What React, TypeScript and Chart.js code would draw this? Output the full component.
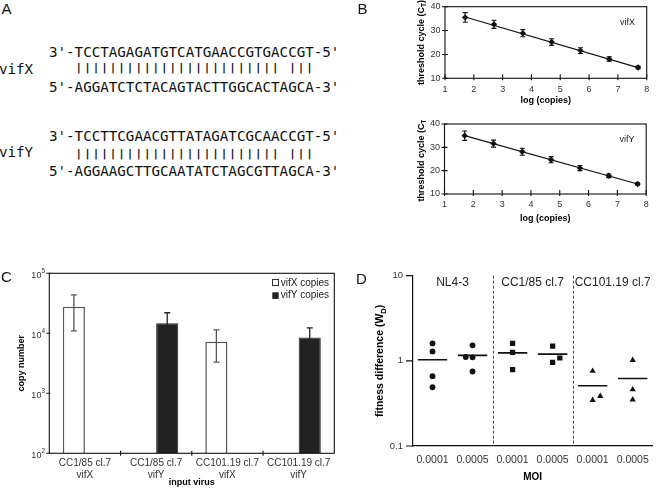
import React, { useEffect, useRef } from "react";
import { Chart, registerables } from "chart.js";

Chart.register(...registerables);

const SANS = "'Liberation Sans', Arial, Helvetica, sans-serif";
const MONO = "'DejaVu Sans Mono', monospace";
Chart.defaults.font.family = SANS;
Chart.defaults.color = "#333";

// ---------- Panel A : primer sequences ----------
const vifXStrand3 = "3'-TCCTAGAGATGTCATGAACCGTGACCGT-5'";
const vifXPairs = "   |||||||||||||||||||||||| |||";
const vifXStrand5 = "5'-AGGATCTCTACAGTACTTGGCACTAGCA-3'";
const vifYStrand3 = "3'-TCCTTCGAACGTTATAGATCGCAACCGT-5'";
const vifYPairs = "   |||||||||||||||||||||||| |||";
const vifYStrand5 = "5'-AGGAAGCTTGCAATATCTAGCGTTAGCA-3'";
const primerNames = ["vifX", "vifY"];
const panelLetters = ["A", "B", "C", "D"];

// ---------- Panel B : standard curves ----------
const logCopies = [1.7, 2.7, 3.7, 4.7, 5.7, 6.7, 7.7];
const ctVifX = [35.5, 32.6, 28.9, 25.2, 21.6, 18.1, 14.5];
const ctVifXErr = [2.0, 1.7, 1.5, 1.4, 1.2, 0.9, 0.6];
const ctVifY = [35.0, 31.6, 28.1, 24.7, 21.1, 17.8, 14.3];
const ctVifYErr = [2.0, 1.5, 1.5, 1.3, 1.1, 0.8, 0.5];
const fitX = [1.7, 7.7];
const fitVifX = [35.7, 14.5];
const fitVifY = [35.0, 14.3];
const ctTitle = ["threshold cycle (C", "T", ")"];
const logTitle = "log (copies)";

// ---------- Panel C : input copy numbers ----------
const inputVirus = [
  ["CC1/85 cl.7", "vifX"],
  ["CC1/85 cl.7", "vifY"],
  ["CC101.19 cl.7", "vifX"],
  ["CC101.19 cl.7", "vifY"],
];
const vifXCopies = [27700, null, 7200, null];
const vifXHigh = [43600, null, 11400, null];
const vifXLow = [11000, null, 3300, null];
const vifYCopies = [null, 14700, null, 8500];
const vifYHigh = [null, 22000, null, 12300];
const vifYLow = [null, 7200, null, 4350];
const copyTicks = [100, 1000, 10000, 100000];
const copyExp = ["2", "3", "4", "5"];
const copyLegend = ["vifX copies", "vifY copies"];

// ---------- Panel D : fitness differences ----------
const moiLabels = ["0.0001", "0.0005", "0.0001", "0.0005", "0.0001", "0.0005"];
const virusGroups = ["NL4-3", "CC1/85 cl.7", "CC101.19 cl.7"];
const groupCenters = [1.5, 3.5, 5.5];
const groupDividers = [2.5, 4.5];
const nl43X = [1, 1, 1, 1, 1.83, 2, 2, 2];
const nl43W = [1.6, 1.29, 0.66, 0.49, 1.11, 1.52, 1.1, 0.75];
const cc185X = [3, 3, 3, 4, 4.18, 4];
const cc185W = [1.6, 1.26, 0.79, 1.49, 1.08, 0.96];
const cc10119X = [5, 5, 5.19, 6, 6, 6];
const cc10119W = [0.76, 0.345, 0.385, 1.02, 0.46, 0.35];
const meanX = [1, 2, 3, 4, 5, 6];
const meanW = [1.03, 1.16, 1.24, 1.2, 0.51, 0.62];
const fitnessTicks = [0.1, 1, 10];

// ---------- helpers ----------
function drawText(ctx: any, s: string, x: number, y: number, size: number, o: any = {}) {
  ctx.save();
  ctx.font = `${o.bold ? "bold " : ""}${size}px ${SANS}`;
  ctx.fillStyle = o.color || "#000";
  ctx.textAlign = o.align || "center";
  ctx.textBaseline = o.baseline || "middle";
  ctx.fillText(s, x, y);
  ctx.restore();
}

function drawVTitle(ctx: any, cx: number, cy: number, parts: string[], size: number) {
  const [main, sub, tail] = parts;
  ctx.save();
  ctx.translate(cx, cy);
  ctx.rotate(-Math.PI / 2);
  const f = `bold ${size}px ${SANS}`;
  const fs = `bold ${size * 0.72}px ${SANS}`;
  ctx.font = f;
  const w1 = ctx.measureText(main).width;
  const w3 = ctx.measureText(tail).width;
  ctx.font = fs;
  const w2 = ctx.measureText(sub).width;
  let x = -(w1 + w2 + w3) / 2;
  const base = size * 0.36;
  ctx.fillStyle = "#000";
  ctx.textAlign = "left";
  ctx.textBaseline = "alphabetic";
  ctx.font = f;
  ctx.fillText(main, x, base);
  x += w1;
  ctx.font = fs;
  ctx.fillText(sub, x, base + size * 0.25);
  x += w2;
  ctx.font = f;
  ctx.fillText(tail, x, base);
  ctx.restore();
}

const fixY = (w: number) => (s: any) => {
  s.width = w;
  s.paddingTop = 0;
  s.paddingBottom = 0;
};
const fixX = (h: number) => (s: any) => {
  s.height = h;
  s.paddingLeft = 0;
  s.paddingRight = 0;
};

function ChartBox({ left, top, width, height, config }: any) {
  const ref = useRef<HTMLCanvasElement>(null);
  useEffect(() => {
    const chart = new Chart(ref.current as HTMLCanvasElement, config());
    return () => chart.destroy();
  }, []);
  return (
    <canvas
      ref={ref}
      width={width}
      height={height}
      style={{ position: "absolute", left, top, width, height }}
    />
  );
}

// ---------- Panel B config ----------
function makeStdCurve(ys: number[], errs: number[], fit: number[], tag: string, o: any) {
  const plugin = {
    id: "stdcurve",
    beforeDatasetsDraw(chart: any) {
      const { ctx, scales } = chart;
      const { x, y } = scales;
      ctx.save();
      ctx.strokeStyle = "#111";
      ctx.lineWidth = 1.1;
      logCopies.forEach((xv, i) => {
        const px = x.getPixelForValue(xv);
        const t = y.getPixelForValue(ys[i] + errs[i]);
        const b = y.getPixelForValue(ys[i] - errs[i]);
        ctx.beginPath();
        ctx.moveTo(px, t);
        ctx.lineTo(px, b);
        ctx.moveTo(px - 2.5, t);
        ctx.lineTo(px + 2.5, t);
        ctx.moveTo(px - 2.5, b);
        ctx.lineTo(px + 2.5, b);
        ctx.stroke();
      });
      ctx.restore();
    },
    afterDraw(chart: any) {
      const { ctx, chartArea: a, scales } = chart;
      const { x, y } = scales;
      ctx.save();
      ctx.strokeStyle = "#111";
      ctx.lineWidth = 1.1;
      ctx.strokeRect(a.left, a.top, a.right - a.left, a.bottom - a.top);
      ctx.beginPath();
      x.ticks.forEach((t: any) => {
        const px = x.getPixelForValue(t.value);
        ctx.moveTo(px, a.bottom - 4);
        ctx.lineTo(px, a.bottom + 2);
      });
      y.ticks.forEach((t: any) => {
        const py = y.getPixelForValue(t.value);
        ctx.moveTo(a.left - 3, py);
        ctx.lineTo(a.left + 3, py);
      });
      ctx.stroke();
      ctx.restore();
      drawVTitle(ctx, a.left - 24, (a.top + a.bottom) / 2, ctTitle, 9);
      drawText(ctx, logTitle, (a.left + a.right) / 2, o.titleY, 9, { bold: true });
      drawText(ctx, tag, a.left + 175, a.top + 15.7, 9, { align: "left", color: "#222" });
    },
  };
  return {
    type: "scatter",
    data: {
      datasets: [
        {
          data: fitX.map((x, i) => ({ x, y: fit[i] })),
          showLine: true,
          borderColor: "#111",
          borderWidth: 1.2,
          pointRadius: 0,
        },
        {
          data: logCopies.map((x, i) => ({ x, y: ys[i] })),
          showLine: false,
          pointStyle: "rectRot",
          pointRadius: 3.2,
          backgroundColor: "#111",
          borderColor: "#111",
          borderWidth: 0,
        },
      ],
    },
    options: {
      animation: false,
      responsive: false,
      events: [],
      layout: { padding: { left: 0, right: o.padRight, top: o.padTop, bottom: 0 } },
      plugins: { legend: { display: false }, tooltip: { enabled: false } },
      scales: {
        x: {
          type: "linear",
          min: 1,
          max: 8,
          ticks: { stepSize: 1, padding: 5.6, color: "#333", font: { size: 9 } },
          grid: { display: false, drawTicks: false },
          border: { display: false },
          afterFit: fixX(o.xHeight),
        },
        y: {
          type: "linear",
          min: 10,
          max: 40,
          ticks: { stepSize: 10, padding: 4.5, color: "#333", font: { size: 9 } },
          grid: { display: false, drawTicks: false },
          border: { display: false },
          afterFit: fixY(o.yWidth),
        },
      },
    },
    plugins: [plugin],
  };
}

// ---------- Panel C config ----------
function makeCopies() {
  const plugin = {
    id: "copies",
    afterDatasetsDraw(chart: any) {
      const { ctx, chartArea: a, scales } = chart;
      const { x, y } = scales;
      const errs = [
        { hi: vifXHigh, lo: vifXLow, ds: 0, color: "#555" },
        { hi: vifYHigh, lo: vifYLow, ds: 1, color: "#222" },
      ];
      errs.forEach((e) => {
        const meta = chart.getDatasetMeta(e.ds);
        e.hi.forEach((h: any, i: number) => {
          if (h == null) return;
          const px = meta.data[i].x;
          const t = y.getPixelForValue(h);
          const b = y.getPixelForValue(e.lo[i]);
          ctx.save();
          ctx.strokeStyle = e.color;
          ctx.lineWidth = 1.3;
          ctx.beginPath();
          ctx.moveTo(px, t);
          ctx.lineTo(px, b);
          ctx.moveTo(px - 3, t);
          ctx.lineTo(px + 3, t);
          ctx.moveTo(px - 3, b);
          ctx.lineTo(px + 3, b);
          ctx.stroke();
          ctx.restore();
        });
      });
    },
    afterDraw(chart: any) {
      const { ctx, chartArea: a, scales } = chart;
      const { x, y } = scales;
      ctx.save();
      ctx.strokeStyle = "#111";
      ctx.lineWidth = 1.1;
      ctx.strokeRect(a.left, a.top, a.right - a.left, a.bottom - a.top);
      ctx.beginPath();
      for (let i = 0; i < inputVirus.length - 1; i++) {
        const px = (x.getPixelForValue(i) + x.getPixelForValue(i + 1)) / 2;
        ctx.moveTo(px, a.bottom - 2.5);
        ctx.lineTo(px, a.bottom + 2.5);
      }
      copyTicks.forEach((v) => {
        const py = y.getPixelForValue(v);
        ctx.moveTo(a.left - 3, py);
        ctx.lineTo(a.left + 1, py);
      });
      ctx.stroke();
      ctx.restore();
      // y labels 10^n
      copyTicks.forEach((v, i) => {
        const py = y.getPixelForValue(v);
        ctx.save();
        ctx.fillStyle = "#333";
        ctx.textBaseline = "alphabetic";
        ctx.textAlign = "right";
        ctx.font = `6.5px ${SANS}`;
        const ew = ctx.measureText(copyExp[i]).width;
        const right = a.left - 4.3;
        ctx.fillText(copyExp[i], right, py - 0.5);
        ctx.font = `9px ${SANS}`;
        ctx.fillText("10", right - ew, py + 4.3);
        ctx.restore();
      });
      // legend
      ctx.save();
      ctx.fillStyle = "#fff";
      ctx.strokeStyle = "#333";
      ctx.lineWidth = 1;
      ctx.fillRect(272.5, 49.5, 6, 6);
      ctx.strokeRect(272.5, 49.5, 6, 6);
      ctx.fillStyle = "#222";
      ctx.fillRect(272.3, 62.3, 6.4, 6.6);
      ctx.restore();
      drawText(ctx, copyLegend[0], 280.7, 53.3, 10, { align: "left", color: "#222" });
      drawText(ctx, copyLegend[1], 280.7, 65.3, 10, { align: "left", color: "#222" });
      drawVTitle(ctx, a.left - 28.6, (a.top + a.bottom) / 2, ["copy number", "", ""], 9);
      drawText(ctx, "input virus", (a.left + a.right) / 2, 253, 9, { bold: true });
    },
  };
  return {
    type: "bar",
    data: {
      labels: inputVirus,
      datasets: [
        {
          label: copyLegend[0],
          data: vifXCopies,
          backgroundColor: "#fff",
          borderColor: "#555",
          borderWidth: 1.5,
          categoryPercentage: 0.62,
          barPercentage: 1,
        },
        {
          label: copyLegend[1],
          data: vifYCopies,
          backgroundColor: "#222",
          borderColor: "#222",
          borderWidth: 1,
          categoryPercentage: 0.62,
          barPercentage: 1,
        },
      ],
    },
    options: {
      animation: false,
      responsive: false,
      events: [],
      layout: { padding: { left: 0, right: 5.7, top: 43.3, bottom: 0 } },
      plugins: { legend: { display: false }, tooltip: { enabled: false } },
      scales: {
        x: {
          type: "category",
          ticks: { padding: 4.2, color: "#333", font: { size: 10, lineHeight: 1.17 }, maxRotation: 0, autoSkip: false },
          grid: { display: false, drawTicks: false },
          border: { display: false },
          afterFit: fixX(35.7),
        },
        y: {
          type: "logarithmic",
          min: 100,
          max: 100000,
          afterBuildTicks: (s: any) => {
            s.ticks = copyTicks.map((v) => ({ value: v }));
          },
          ticks: { display: false },
          grid: { display: false, drawTicks: false },
          border: { display: false },
          afterFit: fixY(49.3),
        },
      },
    },
    plugins: [plugin],
  };
}

// ---------- Panel D config ----------
function makeFitness() {
  const plugin = {
    id: "fitness",
    beforeDatasetsDraw(chart: any) {
      const { ctx, chartArea: a, scales } = chart;
      const { x } = scales;
      ctx.save();
      ctx.strokeStyle = "#444";
      ctx.lineWidth = 1;
      ctx.setLineDash([3, 2]);
      groupDividers.forEach((v) => {
        const px = Math.round(x.getPixelForValue(v)) + 0.5;
        ctx.beginPath();
        ctx.moveTo(px, a.top);
        ctx.lineTo(px, a.bottom);
        ctx.stroke();
      });
      ctx.restore();
    },
    afterDraw(chart: any) {
      const { ctx, chartArea: a, scales } = chart;
      const { x, y } = scales;
      ctx.save();
      ctx.strokeStyle = "#111";
      ctx.lineWidth = 1.2;
      ctx.beginPath();
      fitnessTicks.forEach((v) => {
        const py = y.getPixelForValue(v);
        ctx.moveTo(a.left - 6.5, py);
        ctx.lineTo(a.left, py);
      });
      ctx.stroke();
      ctx.restore();
      virusGroups.forEach((g, i) => {
        drawText(ctx, g, x.getPixelForValue(groupCenters[i]), a.top + 9.8, 12, { baseline: "alphabetic", color: "#222" });
      });
      drawVTitle(ctx, a.left - 33.2, (a.top + a.bottom) / 2, ["fitness difference (W", "D", ")"], 10.5);
      drawText(ctx, "MOI", (a.left + a.right) / 2, 247.3, 10, { bold: true });
    },
  };
  const pts = (xs: number[], ys: number[]) => xs.map((v, i) => ({ x: v, y: ys[i] }));
  return {
    type: "scatter",
    data: {
      datasets: [
        { data: pts(nl43X, nl43W), pointStyle: "circle", pointRadius: 2.9, backgroundColor: "#111", borderWidth: 0 },
        { data: pts(cc185X, cc185W), pointStyle: "rect", pointRadius: 3.7, backgroundColor: "#111", borderWidth: 0 },
        { data: pts(cc10119X, cc10119W), pointStyle: "triangle", pointRadius: 3.6, backgroundColor: "#111", borderWidth: 0 },
        { data: pts(meanX, meanW), pointStyle: "line", pointRadius: 14.7, borderColor: "#111", pointBorderWidth: 1.6 },
      ],
    },
    options: {
      animation: false,
      responsive: false,
      events: [],
      layout: { padding: { left: 0, right: 0, top: 45.7, bottom: 0 } },
      plugins: { legend: { display: false }, tooltip: { enabled: false } },
      scales: {
        x: {
          type: "linear",
          min: 0.5,
          max: 6.5,
          afterBuildTicks: (s: any) => {
            s.ticks = meanX.map((v) => ({ value: v }));
          },
          ticks: {
            padding: 7.7,
            color: "#333",
            font: { size: 10.5 },
            callback: (v: any) => moiLabels[Math.round(v) - 1],
          },
          grid: { display: false, drawTicks: false },
          border: { display: true, color: "#111", width: 1.2 },
          afterFit: fixX(43),
        },
        y: {
          type: "logarithmic",
          min: 0.1,
          max: 10,
          afterBuildTicks: (s: any) => {
            s.ticks = fitnessTicks.map((v) => ({ value: v }));
          },
          ticks: { padding: 9.5, color: "#333", font: { size: 9.5 }, callback: (v: any) => String(v) },
          grid: { display: false, drawTicks: false },
          border: { display: true, color: "#111", width: 1.2 },
          afterFit: fixY(72.5),
        },
      },
    },
    plugins: [plugin],
  };
}

// ---------- layout ----------
const monoStyle: any = {
  position: "absolute",
  fontFamily: MONO,
  fontSize: "14.2px",
  lineHeight: "14.2px",
  whiteSpace: "pre",
  color: "#111",
};
const letterStyle: any = {
  position: "absolute",
  fontFamily: SANS,
  fontSize: "15px",
  lineHeight: "15px",
  color: "#111",
};
const barsStyle: any = { ...monoStyle, transform: "scaleY(0.78)", transformOrigin: "50% 58%" };

export default function App() {
  return (
    <div
      style={{
        position: "absolute",
        left: 0,
        top: 0,
        width: 669,
        height: 489,
        overflow: "hidden",
        background: "#fff",
      }}
    >
      <ChartBox
        left={340}
        top={0}
        width={329}
        height={120}
        config={() =>
          makeStdCurve(ctVifX, ctVifXErr, fitVifX, primerNames[0], {
            padTop: 6.7,
            padRight: 22.3,
            yWidth: 105,
            xHeight: 41.7,
            titleY: 100.8,
          })
        }
      />
      <ChartBox
        left={340}
        top={120}
        width={329}
        height={120}
        config={() =>
          makeStdCurve(ctVifY, ctVifYErr, fitVifY, primerNames[1], {
            padTop: 3.3,
            padRight: 22.8,
            yWidth: 104.5,
            xHeight: 46,
            titleY: 99,
          })
        }
      />
      <ChartBox left={0} top={230} width={340} height={259} config={makeCopies} />
      <ChartBox left={340} top={230} width={329} height={259} config={makeFitness} />

      <div style={{ ...monoStyle, left: 49, top: 44.7 }}>{vifXStrand3}</div>
      <div style={{ ...barsStyle, left: 49, top: 60.4 }}>{vifXPairs}</div>
      <div style={{ ...monoStyle, left: 49, top: 79.7 }}>{vifXStrand5}</div>
      <div style={{ ...monoStyle, left: -1, top: 62 }}>{primerNames[0]}</div>

      <div style={{ ...monoStyle, left: 49, top: 128.7 }}>{vifYStrand3}</div>
      <div style={{ ...barsStyle, left: 49, top: 145.5 }}>{vifYPairs}</div>
      <div style={{ ...monoStyle, left: 49, top: 163.7 }}>{vifYStrand5}</div>
      <div style={{ ...monoStyle, left: -1, top: 145.3 }}>{primerNames[1]}</div>

      <div style={{ ...letterStyle, left: 1.5, top: 0.6 }}>{panelLetters[0]}</div>
      <div style={{ ...letterStyle, left: 357.5, top: 1.3 }}>{panelLetters[1]}</div>
      <div style={{ ...letterStyle, left: 1, top: 269 }}>{panelLetters[2]}</div>
      <div style={{ ...letterStyle, left: 356, top: 270.6 }}>{panelLetters[3]}</div>
    </div>
  );
}
